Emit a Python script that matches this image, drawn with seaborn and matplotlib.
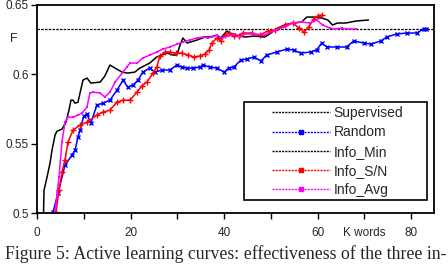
import matplotlib
matplotlib.use('Agg')
import matplotlib.pyplot as plt
from matplotlib.lines import Line2D
from matplotlib.patches import Rectangle
import seaborn as sns

# K words vs F
supervised = 0.6326

random_x = [3.42, 4.49, 5.98, 7.48, 8.12, 8.76, 9.19, 10.0, 10.7, 11.5, 12.8, 14.1, 15.6, 17.1, 18.4,
            19.4, 20.5, 21.6, 22.6, 24.1, 25.2, 26.7, 28.4, 29.9, 31.0, 32.1, 33.3, 34.8, 35.5, 37.0,
            38.5, 40.0, 41.0, 42.1, 43.6, 44.9, 46.4, 47.9, 49.1, 51.3, 53.4, 54.9, 56.4, 58.5, 59.8,
            60.9, 62.0, 64.1, 66.2, 67.7, 69.9, 71.4, 73.5, 74.8, 76.9, 79.1, 81.2, 82.7, 83.3]
random_f = [0.5005, 0.5143, 0.5345, 0.5417, 0.5453, 0.5547, 0.5597, 0.5699, 0.5713, 0.5648, 0.5778,
            0.5792, 0.5814, 0.5886, 0.5958, 0.5908, 0.5922, 0.5958, 0.6016, 0.6045, 0.6016, 0.6031,
            0.6031, 0.6067, 0.6052, 0.6045, 0.6045, 0.6052, 0.6067, 0.6052, 0.6045, 0.6016, 0.6045,
            0.6052, 0.6103, 0.6110, 0.6125, 0.6096, 0.6139, 0.6161, 0.6182, 0.6175, 0.6153, 0.6161,
            0.6175, 0.6226, 0.6197, 0.6197, 0.6197, 0.6240, 0.6226, 0.6218, 0.6240, 0.6269, 0.6291,
            0.6298, 0.6298, 0.6327, 0.6327]

min_x = [1.4, 1.5, 2.14, 2.78, 3.21, 3.85, 4.27, 5.34, 6.20, 6.84, 7.26, 7.69, 8.12, 8.76, 9.83,
         10.7, 11.5, 13.5, 14.5, 15.6, 16.7, 18.2, 19.4, 20.9, 22.0, 24.1, 25.6, 27.8, 29.1, 29.9,
         30.6, 31.2, 32.1, 34.2, 35.9, 37.0, 38.5, 39.1, 40.6, 41.2, 42.7, 44.4, 46.6, 48.7, 49.4,
         51.5, 53.0, 54.7, 56.6, 57.7, 59.0, 60.9, 62.2, 63.2, 64.3, 66.0, 68.2, 70.9]
min_f = [0.5005, 0.5164, 0.5258, 0.5359, 0.5453, 0.5561, 0.5590, 0.5605, 0.5655, 0.5742, 0.5814,
         0.5814, 0.5792, 0.5799, 0.5958, 0.5973, 0.5937, 0.5944, 0.5987, 0.6067, 0.6045, 0.6016,
         0.6009, 0.6016, 0.6045, 0.6081, 0.6125, 0.6153, 0.6139, 0.6139, 0.6211, 0.6262, 0.6226,
         0.6247, 0.6269, 0.6269, 0.6283, 0.6255, 0.6312, 0.6298, 0.6283, 0.6269, 0.6276, 0.6269,
         0.6283, 0.6334, 0.6356, 0.6370, 0.6377, 0.6413, 0.6413, 0.6406, 0.6392, 0.6356, 0.6370,
         0.6370, 0.6384, 0.6392]

sn_x = [4.06, 4.70, 5.34, 5.98, 6.62, 7.69, 9.19, 10.7, 12.8, 14.1, 15.6, 17.1, 18.4, 19.9, 21.4,
        22.4, 23.5, 24.8, 25.6, 26.3, 27.4, 28.4, 29.7, 31.0, 32.3, 33.5, 34.8, 35.9, 36.8, 37.4,
        38.5, 39.3, 40.2, 41.0, 42.1, 43.2, 44.0, 45.9, 47.6, 49.4, 50.9, 53.0, 54.7, 56.0, 57.1,
        58.1, 59.2, 60.0, 60.9]
sn_f = [0.5005, 0.5164, 0.5294, 0.5381, 0.5511, 0.5597, 0.5634, 0.5655, 0.5706, 0.5727, 0.5742,
        0.5799, 0.5814, 0.5814, 0.5872, 0.5915, 0.5944, 0.6009, 0.6052, 0.6132, 0.6161, 0.6161,
        0.6153, 0.6153, 0.6139, 0.6125, 0.6132, 0.6146, 0.6175, 0.6226, 0.6262, 0.6240, 0.6283,
        0.6298, 0.6276, 0.6276, 0.6298, 0.6298, 0.6283, 0.6312, 0.6319, 0.6356, 0.6370, 0.6334,
        0.6305, 0.6341, 0.6399, 0.6421, 0.6428]

avg_x = [3.85, 4.27, 4.70, 5.34, 5.98, 6.62, 7.69, 8.76, 9.62, 10.7, 11.3, 12.0, 13.5, 14.5, 15.6,
         16.7, 18.2, 19.2, 19.9, 21.4, 22.6, 24.1, 25.6, 26.9, 28.4, 29.9, 31.2, 32.7, 34.2, 35.5,
         36.5, 37.4, 38.5, 39.5, 40.8, 42.3, 43.4, 44.4, 46.6, 48.7, 50.9, 53.0, 54.7, 56.6, 58.3,
         59.8, 61.1, 62.6, 63.7, 65.2, 66.2, 68.2]
avg_f = [0.5005, 0.5128, 0.5258, 0.5511, 0.5655, 0.5691, 0.5691, 0.5706, 0.5720, 0.5764, 0.5865,
         0.5872, 0.5865, 0.5836, 0.5872, 0.5944, 0.6009, 0.6052, 0.6081, 0.6081, 0.6117, 0.6139,
         0.6161, 0.6182, 0.6197, 0.6218, 0.6233, 0.6247, 0.6262, 0.6269, 0.6262, 0.6269, 0.6283,
         0.6262, 0.6276, 0.6291, 0.6269, 0.6291, 0.6291, 0.6283, 0.6319, 0.6341, 0.6370, 0.6377,
         0.6370, 0.6392, 0.6356, 0.6334, 0.6327, 0.6334, 0.6327, 0.6327]

labels = ['Supervised', 'Random', 'Info_Min', 'Info_S/N', 'Info_Avg']
xtick_labels = ['0', '', '20', '', '40', '', '60', 'K words', '80']

sns.set_style('ticks')
plt.rcParams['font.family'] = ['Liberation Sans', 'DejaVu Sans']

fig = plt.figure(figsize=(4.48, 2.7), dpi=100)
ax = fig.add_axes([0.0826, 0.211, 0.886, 0.7705])

ax.axhline(supervised, color='black', lw=0.9, ls=(0, (2, 1)))
sns.lineplot(x=random_x, y=random_f, color='#0000ff', lw=1.1, marker='x', markersize=3.5,
             markeredgewidth=1, markeredgecolor='#0000ff', ax=ax)
sns.lineplot(x=min_x, y=min_f, color='black', lw=1.1, ax=ax)
sns.lineplot(x=sn_x, y=sn_f, color='#ff0000', lw=1.1, marker='+', markersize=4,
             markeredgewidth=1, markeredgecolor='#ff0000', ax=ax)
sns.lineplot(x=avg_x, y=avg_f, color='#ff00ff', lw=1.1, marker='s', markersize=2,
             markeredgewidth=0, ax=ax)

ax.set_xlim(0, 84.9)
ax.set_ylim(0.5, 0.65)
ax.set_xticks(range(0, 90, 10))
ax.set_xticklabels(xtick_labels)
ax.set_yticks([0.5, 0.55, 0.6, 0.65])
ax.set_yticklabels(['0.5', '0.55', '0.6', '0.65'])
ax.tick_params(labelsize=8.5, length=4, width=1, color='black', pad=6)
ax.tick_params(axis='y', pad=2)
for s in ax.spines.values():
    s.set_visible(True)
    s.set_linewidth(1.3)
    s.set_color('black')
ax.set_xlabel('')
ax.set_ylabel('')
fig.text(10 / 448, 1 - 42 / 270, 'F', fontsize=9)

# legend box drawn separately so it can be wider than its contents
ax.add_patch(Rectangle((0.521, 0.0625), 0.461, 0.471, transform=ax.transAxes,
                       facecolor='white', edgecolor='black', lw=1.2, zorder=5))
dash = (0, (1.5, 0.8))
handles = [
    Line2D([], [], color='black', lw=1, ls=dash),
    Line2D([], [], color='#0000ff', lw=1, ls=dash, marker='s', markersize=2.5),
    Line2D([], [], color='black', lw=1, ls=dash),
    Line2D([], [], color='#ff0000', lw=1, ls=dash, marker='s', markersize=2.5),
    Line2D([], [], color='#ff00ff', lw=1, ls=dash, marker='s', markersize=2.5),
]
leg = ax.legend(handles, labels, loc='upper left', bbox_to_anchor=(0.592, 0.514),
                borderaxespad=0, borderpad=0, fontsize=10, handlelength=4.2,
                handletextpad=0.25, labelspacing=0.38, frameon=False)
leg.set_zorder(6)

fig.text(5 / 448, 1 - 259 / 270, 'Figure 5: Active learning curves: effectiveness of the three in-',
         fontsize=12.8, family='Liberation Serif')

fig.savefig('out.png', dpi=100)
